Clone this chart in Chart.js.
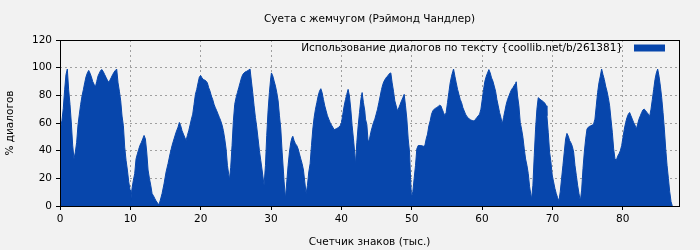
<!DOCTYPE html>
<html>
<head>
<meta charset="utf-8">
<script src="https://cdn.jsdelivr.net/npm/chart.js@4"></script>
<style>
  html, body { margin: 0; padding: 0; background: #f2f2f2; }
  #box { width: 700px; height: 250px; }
</style>
</head>
<body>
<div id="box"><canvas id="dialogChart"></canvas></div>
<script>
// Позиция в тексте (тыс. знаков)
const charCount = [
  0, 0.28, 0.47, 0.66, 0.85, 1.04, 1.23, 1.42, 1.61, 1.80, 1.99, 2.18, 2.37, 2.56, 2.75, 2.94, 3.13, 3.32, 3.51, 3.70,
  3.89, 4.08, 4.27, 4.46, 4.65, 4.84, 5.03, 5.22, 5.41, 5.59, 5.78, 5.97, 6.16, 6.35, 6.54, 6.73, 6.92, 7.11, 7.30, 7.49,
  7.68, 7.87, 8.06, 8.25, 8.44, 8.63, 8.82, 9.01, 9.20, 9.39, 9.58, 9.77, 9.96, 10.05, 10.24, 10.43, 10.62, 10.81, 11.0, 11.19,
  11.38, 11.57, 11.76, 11.95, 12.14, 12.33, 12.52, 12.71, 12.90, 13.09, 13.28, 13.47, 13.66, 13.85, 14.04, 14.23,
  14.51, 14.79, 15.08, 15.36, 15.65, 15.93, 16.21, 16.50, 16.78, 16.97, 17.16, 17.35, 17.54, 17.73, 17.92, 18.11, 18.30, 18.49,
  18.68, 18.87, 19.06, 19.25, 19.44, 19.63, 19.82, 20.00, 20.19, 20.38, 20.57, 20.76, 20.95, 21.14, 21.33, 21.52, 21.71, 21.90,
  22.09, 22.28, 22.47, 22.66, 22.85, 23.04, 23.23, 23.42, 23.61, 23.80, 23.99, 24.08, 24.27, 24.46, 24.65, 24.84, 25.03, 25.22,
  25.41, 25.60, 25.79, 25.98, 26.17, 26.36, 26.55, 26.74, 27.02, 27.21, 27.40, 27.59, 27.78, 27.97, 28.16, 28.35, 28.54, 28.73,
  29.01, 29.21, 29.39, 29.58, 29.77, 29.96, 30.06, 30.25, 30.44, 30.63, 30.82, 31.01, 31.20, 31.39, 31.58, 31.77, 31.86, 32.05,
  32.24, 32.43, 32.62, 32.81, 33.0, 33.09, 33.28, 33.47, 33.66, 33.85, 34.04, 34.23, 34.42, 34.61, 34.80, 34.99, 35.18, 35.37,
  35.56, 35.75, 35.94, 36.13, 36.32, 36.51, 36.70, 36.89, 37.08, 37.26, 37.45, 37.64, 37.83, 38.02, 38.21, 38.40, 38.59, 38.78,
  38.97, 39.16, 39.35, 39.64, 39.83, 40.02, 40.21, 40.40, 40.59, 40.77, 40.96, 41.15, 41.34, 41.53, 41.72, 41.91, 42.01, 42.20,
  42.39, 42.58, 42.77, 42.95, 43.14, 43.33, 43.43, 43.62, 43.81, 44.0, 44.19, 44.38, 44.57, 44.76, 44.95, 45.14, 45.33, 45.52,
  45.71, 45.90, 46.08, 46.27, 46.46, 46.65, 46.84, 47.03, 47.22, 47.41, 47.60, 47.79, 47.98, 48.17, 48.36, 48.55, 48.74, 48.93,
  49.12, 49.31, 49.50, 49.69, 49.88, 49.97, 50.16, 50.35, 50.54, 50.73, 50.92, 51.30, 51.68, 51.87, 52.06, 52.25, 52.44, 52.63,
  52.82, 53.01, 53.20, 53.39, 53.58, 53.77, 53.96, 54.15, 54.33, 54.52, 54.71, 54.90, 55.09, 55.28, 55.47, 55.66, 55.85, 55.95,
  56.14, 56.33, 56.52, 56.71, 56.90, 57.09, 57.28, 57.46, 57.65, 57.84, 58.03, 58.32, 58.60, 58.89, 59.08, 59.27, 59.46, 59.65,
  59.84, 60.03, 60.22, 60.41, 60.60, 60.78, 60.97, 61.16, 61.35, 61.54, 61.73, 61.92, 62.11, 62.30, 62.49, 62.68, 62.87, 63.06,
  63.25, 63.44, 63.63, 63.82, 64.01, 64.20, 64.39, 64.58, 64.77, 64.86, 65.05, 65.24, 65.43, 65.62, 65.81, 66.0, 66.19, 66.38,
  66.57, 66.76, 66.95, 67.04, 67.23, 67.42, 67.61, 67.80, 67.99, 68.18, 68.37, 68.56, 68.75, 68.94, 69.13, 69.22, 69.41, 69.60,
  69.79, 69.98, 70.17, 70.36, 70.55, 70.74, 70.93, 71.12, 71.31, 71.50, 71.69, 71.88, 72.07, 72.26, 72.45, 72.64, 72.83, 73.02,
  73.21, 73.40, 73.59, 73.78, 73.97, 74.16, 74.35, 74.54, 74.73, 74.92, 75.11, 75.29, 75.48, 75.67, 75.86, 76.05, 76.24, 76.43,
  76.62, 76.81, 77.0, 77.19, 77.38, 77.57, 77.76, 77.95, 78.14, 78.33, 78.52, 78.71, 78.90, 79.09, 79.28, 79.47, 79.66, 79.85,
  80.04, 80.23, 80.42, 80.61, 80.80, 80.98, 81.17, 81.36, 81.55, 81.74, 81.93, 82.12, 82.31, 82.50, 82.69, 82.88, 83.07, 83.26,
  83.45, 83.64, 83.83, 84.02, 84.21, 84.40, 84.59, 84.78, 84.97, 85.16, 85.35, 85.54, 85.73, 85.92, 86.11, 86.30, 86.49, 86.68,
  86.87, 87.05
];

// Доля диалогов, %
const dialogShare = [
  54, 62, 70.7, 84, 95, 99, 84, 73.5, 60, 44, 34, 39, 46, 58.6, 66.4, 73.5, 79.5, 84, 89, 93.4,
  96.2, 98, 96, 93.4, 90, 88, 86, 90, 94, 96, 98, 98.6, 97, 95, 93, 91, 89.5, 91, 93, 95,
  96.7, 98, 99, 89, 83, 76, 65, 58, 42.5, 33, 26, 17.5, 11.5, 3.6, 12.7, 18.6, 23.4, 34, 37.7, 41,
  44, 46, 48.5, 51, 48.5, 39, 26, 20, 15, 9, 7.4, 5.5, 3.6, 2.4, 0.7, 3.6,
  9, 16, 24.6, 30.6, 37.7, 43.7, 48.5, 53.3, 57, 60.4, 58, 54.4, 52, 49.7, 47.3, 51, 54.4, 58.5,
  62.8, 66.4, 73.5, 80.7, 84.3, 89, 93.4, 94.3, 92.6, 91.5, 91, 90.3, 89, 85.5, 83, 79.5, 77, 73.5,
  71, 68.8, 66.4, 64, 61.6, 58.5, 54.4, 48.5, 41.3, 29.4, 22.7, 18.6, 28, 43.7, 61.6, 73.5, 78.3, 82,
  85.5, 89, 92.6, 95, 96.2, 97, 97.4, 98, 99, 90.3, 82, 72.4, 64, 57, 48.5, 40, 33, 26,
  15, 29.4, 51, 68.8, 82, 92.6, 96.2, 94, 90.3, 86.7, 82, 76, 65.2, 55.6, 39, 24.6, 17.4, 5.5,
  17.4, 29.4, 39, 46, 49.7, 50.4, 47.3, 45, 43.7, 41.3, 37.7, 34, 30.6, 26, 17.4, 9, 15, 24.6,
  30.6, 43.7, 55.6, 64, 70, 74.7, 79.5, 83, 84.8, 82, 77, 72.4, 68.8, 65.2, 62.8, 60.4, 58.5, 57,
  55.2, 55.6, 56, 57, 58, 60.4, 66.4, 72.4, 77, 80.7, 84.3, 79.5, 70, 58, 48.5, 37.7, 30, 46,
  58, 67.6, 77, 82, 74.7, 68.8, 62.8, 59, 46, 48.5, 53.3, 57, 60.4, 62.8, 66.4, 70, 74.7, 79.5,
  84.3, 88, 90.3, 92, 93.4, 94.3, 95.8, 96.2, 89, 83, 76, 72.4, 68.8, 71, 73.5, 76, 78.3, 80.7,
  72.4, 62.8, 48.5, 39, 15, 6, 10.3, 20, 29.4, 41.3, 43.7, 43.7, 43.2, 43.7, 48.5, 52, 58, 61.6,
  66.4, 68.8, 70, 70.7, 71.2, 72, 72.8, 72.4, 70, 67.6, 65.2, 67.6, 74.7, 82, 89, 93.8, 97.4, 99,
  93.8, 89, 84.3, 80.7, 77, 74.7, 71, 68.8, 66.4, 64.7, 63.8, 62.3, 61.8, 61.4, 62.8, 64, 65.2, 66.4,
  70, 77, 84.3, 90.3, 93.8, 96.2, 98.6, 96.2, 92.6, 90.3, 86.7, 83, 77, 72.4, 67.6, 64, 59.2, 64,
  68.8, 73.5, 77, 79.5, 82, 84.3, 85.5, 87.2, 88.6, 89.8, 79.5, 72.4, 60.4, 55.6, 49.7, 41.3, 34, 29.4,
  23.4, 13.9, 7.9, 5, 15, 36.5, 55.6, 70, 78.3, 77.6, 76.6, 76, 75.2, 74.3, 72.4, 65.2, 53.3, 39,
  31.8, 22.2, 17.4, 12.7, 9, 6, 3.6, 10.3, 20, 29.4, 39, 48.5, 52.5, 50.5, 47.3, 45.6, 43.2, 39,
  29.4, 22.2, 15, 9, 3.6, 11.5, 27, 39, 48.5, 55.6, 57, 57.6, 58, 58.5, 59.2, 62.8, 72.4, 82,
  89, 93.8, 99, 95, 91.5, 86.7, 83, 78.3, 72.4, 62.8, 53.3, 41.3, 34, 33, 36, 37.7, 40, 43.7,
  49.7, 55.6, 60.4, 64, 66.4, 67.6, 65.2, 62.8, 60.4, 58.5, 55.6, 59.2, 62.8, 65.2, 67.6, 69.5, 70, 68.8,
  67.6, 66.4, 64.7, 70, 77, 84.3, 91.5, 96.2, 99, 93.8, 86.7, 78.3, 67.6, 55.6, 41.3, 29.4, 20, 10.3,
  3.1, 0
];

const yTicks = [0, 20, 40, 60, 80, 100, 120];
const xTicks = [0, 10, 20, 30, 40, 50, 60, 70, 80];
const chartTitle = 'Суета с жемчугом (Рэймонд Чандлер)';

const points = charCount.map((x, i) => ({ x: x, y: dialogShare[i] }));
const fontFamily = 'DejaVu Sans, sans-serif';
const fontSize = 10.5;

// рамка, заголовок над областью графика и легенда в правом верхнем углу
const framePlugin = {
    id: 'frame',
    afterDraw(chart) {
        const a = chart.chartArea;
        const ctx = chart.ctx;
        const ds = chart.data.datasets[0];
        ctx.save();
        ctx.strokeStyle = '#000';
        ctx.lineWidth = 1;
        ctx.strokeRect(Math.round(a.left) + 0.5, Math.round(a.top) + 0.5, Math.round(a.right - a.left), Math.round(a.bottom - a.top));

        ctx.fillStyle = '#000';
        ctx.font = fontSize + 'px ' + fontFamily;
        ctx.textBaseline = 'middle';
        ctx.textAlign = 'center';
        ctx.fillText(chartTitle, (a.left + a.right) / 2, 19);

        const boxRight = a.right - 14;
        const boxW = 31, boxH = 7;
        const midY = a.top + 8;
        ctx.fillStyle = ds.backgroundColor;
        ctx.fillRect(boxRight - boxW, midY - boxH / 2, boxW, boxH);
        ctx.fillStyle = '#000';
        ctx.textAlign = 'right';
        ctx.fillText(ds.label, boxRight - boxW - 11, midY);
        ctx.restore();
    }
};

new Chart(document.getElementById('dialogChart'), {
    type: 'line',
    data: {
        datasets: [{
            label: 'Использование диалогов по тексту {coollib.net/b/261381}',
            data: points,
            fill: 'origin',
            backgroundColor: '#0746ac',
            borderColor: '#0746ac',
            borderWidth: 1,
            pointRadius: 0,
            tension: 0
        }]
    },
    options: {
        animation: false,
        responsive: true,
        maintainAspectRatio: false,
        layout: { padding: { left: 0, right: 21, top: 40, bottom: 0 } },
        plugins: {
            title: { display: false },
            legend: { display: false },
            tooltip: { enabled: false }
        },
        scales: {
            x: {
                type: 'linear',
                min: 0,
                max: 88,
                afterBuildTicks: (axis) => { axis.ticks = xTicks.map(v => ({ value: v })); },
                afterFit: (axis) => { axis.height = 44; },
                grid: {
                    color: '#a0a0a0',
                    tickColor: '#000',
                    tickLength: 4,
                    tickBorderDash: []
                },
                border: { display: false, dash: [2, 3] },
                ticks: {
                    color: '#000',
                    font: { family: fontFamily, size: fontSize },
                    padding: 3,
                    maxRotation: 0
                },
                title: {
                    display: true,
                    text: 'Счетчик знаков (тыс.)',
                    color: '#000',
                    font: { family: fontFamily, size: fontSize },
                    padding: { top: 4, bottom: 1.5 }
                }
            },
            y: {
                min: 0,
                max: 120,
                afterBuildTicks: (axis) => { axis.ticks = yTicks.map(v => ({ value: v })); },
                afterFit: (axis) => { axis.width = 60; },
                grid: {
                    color: '#a0a0a0',
                    tickColor: '#000',
                    tickLength: 4,
                    tickBorderDash: []
                },
                border: { display: false, dash: [2, 3] },
                ticks: {
                    color: '#000',
                    font: { family: fontFamily, size: fontSize },
                    padding: 4
                },
                title: {
                    display: true,
                    text: '% диалогов',
                    color: '#000',
                    font: { family: fontFamily, size: fontSize },
                    padding: { top: 3.5, bottom: 4 }
                }
            }
        }
    },
    plugins: [framePlugin]
});
</script>
</body>
</html>
